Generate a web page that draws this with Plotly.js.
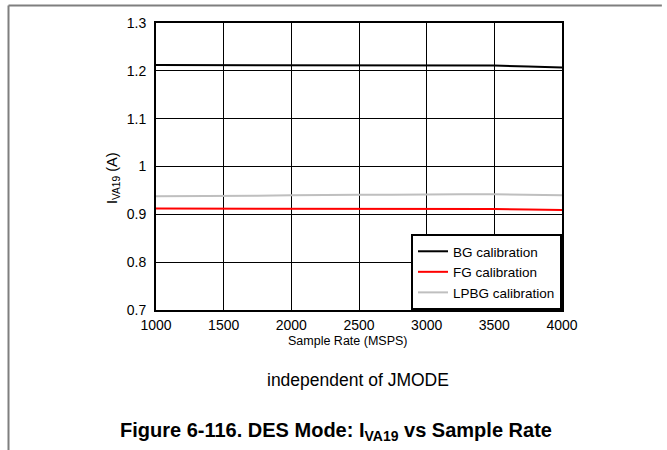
<!DOCTYPE html>
<html><head><meta charset="utf-8">
<script src="https://cdn.plot.ly/plotly-3.0.1.min.js"></script>
<style>html,body{margin:0;padding:0;background:#fff}#chart{width:667px;height:450px}</style>
</head><body><div id="chart"></div>
<script>
var sampleRate = [1000, 1250, 1500, 1750, 2000, 2250, 2500, 2750, 3000, 3250, 3500, 3750, 4000];
var bgCal   = [1.212, 1.212, 1.212, 1.212, 1.212, 1.212, 1.212, 1.212, 1.212, 1.212, 1.211, 1.209, 1.207];
var fgCal   = [0.912, 0.912, 0.912, 0.911, 0.912, 0.912, 0.912, 0.912, 0.912, 0.912, 0.911, 0.910, 0.909];
var lpbgCal = [0.938, 0.938, 0.939, 0.939, 0.940, 0.941, 0.941, 0.941, 0.942, 0.942, 0.942, 0.941, 0.940];
var xTicks = [1000, 1500, 2000, 2500, 3000, 3500, 4000];
var yTicks = [0.7, 0.8, 0.9, 1.0, 1.1, 1.2, 1.3];
var yTickText = ['0.7', '0.8', '0.9', '1', '1.1', '1.2', '1.3'];

var traces = [
  {x: sampleRate, y: bgCal, name: 'BG calibration', mode: 'lines', line: {color: '#000000', width: 2}},
  {x: sampleRate, y: fgCal, name: 'FG calibration', mode: 'lines', line: {color: '#ff0000', width: 2}},
  {x: sampleRate, y: lpbgCal, name: 'LPBG calibration', mode: 'lines', line: {color: '#bfbfbf', width: 2}}
];

var fam = 'Arial, Liberation Sans, sans-serif';
var layout = {
  width: 667, height: 450,
  margin: {l: 156, r: 105, t: 23, b: 140},
  paper_bgcolor: '#fff', plot_bgcolor: '#fff',
  font: {family: fam, size: 14, color: '#000'},
  showlegend: true,
  legend: {x: 1, y: 0, xanchor: 'right', yanchor: 'bottom', bgcolor: '#fff',
           bordercolor: '#000', borderwidth: 2, font: {size: 13.5, family: fam},
           tracegroupgap: 0, itemwidth: 30},
  xaxis: {range: [1000, 4000], tickvals: xTicks, ticktext: xTicks.map(String),
          showgrid: true, gridcolor: '#000', gridwidth: 1, zeroline: false,
          showline: true, linecolor: '#000', linewidth: 2, mirror: true, ticks: '',
          tickfont: {size: 14}, fixedrange: true, ticklabelstandoff: 1},
  yaxis: {range: [0.7, 1.3], tickvals: yTicks, ticktext: yTickText,
          showgrid: true, gridcolor: '#000', gridwidth: 1, zeroline: false,
          showline: true, linecolor: '#000', linewidth: 2, mirror: true, ticks: '',
          tickfont: {size: 14}, fixedrange: true, ticklabelstandoff: 5},
  annotations: [
    {text: 'Sample Rate (MSPS)', xref: 'paper', yref: 'paper', x: 0.471, y: -0.107,
     xanchor: 'center', yanchor: 'middle', showarrow: false, font: {size: 12.5, family: fam}},
    {text: 'I<sub>VA19</sub> (A)', xref: 'paper', yref: 'paper', x: -0.106, y: 0.46,
     xanchor: 'center', yanchor: 'middle', textangle: -90, showarrow: false, font: {size: 14.5, family: fam}},
    {text: 'independent of JMODE', xref: 'paper', yref: 'paper', x: 0.497, y: -0.245,
     xanchor: 'center', yanchor: 'middle', showarrow: false, font: {size: 17.5, family: fam}},
    {text: '<b>Figure 6-116. DES Mode: I<sub>VA19</sub> vs Sample Rate</b>', xref: 'paper', yref: 'paper',
     x: 0.443, y: -0.425, xanchor: 'center', yanchor: 'middle', showarrow: false,
     font: {size: 20, family: fam}}
  ],
  shapes: [
    {type: 'line', xref: 'paper', yref: 'paper', x0: -0.3633, x1: 1.246, y0: 1.061, y1: 1.061,
     line: {color: '#7f7f7f', width: 2}},
    {type: 'line', xref: 'paper', yref: 'paper', x0: -0.3633, x1: -0.3633, y0: 1.061, y1: -0.49,
     line: {color: '#7f7f7f', width: 2}}
  ]
};
Plotly.newPlot('chart', traces, layout, {displayModeBar: false, staticPlot: true});
</script></body></html>
